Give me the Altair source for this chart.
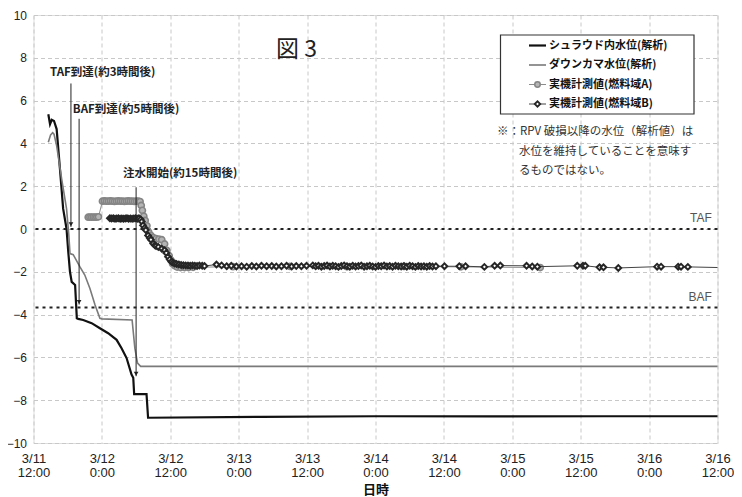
import json
import altair as alt
import pandas as pd

# ---------------- data (hours after 3/11 12:00, water level m) ----------------
shroud_h = [2.6, 2.9, 3.2, 3.6, 4.06, 4.64, 5.2, 5.8, 6.1, 6.4, 6.7, 7.3, 7.6, 7.85, 8.72,
            10.2, 11.65, 13.1, 14.58, 15.45, 16.33, 17.2, 17.5, 17.66, 19.83, 20.1,
            40.0, 60.0, 80.0, 100.0, 120.0]
shroud_v = [5.36, 4.9, 5.1, 5.05, 4.67, 2.81, 0.95, 0.0, -1.07, -2.0, -2.47, -2.62, -4.17, -4.2, -4.25,
            -4.4, -4.64, -4.87, -5.18, -5.57, -6.03, -6.8, -6.95, -7.72, -7.72, -8.82,
            -8.78, -8.75, -8.76, -8.75, -8.75]

down_h = [2.6, 3.0, 3.36, 3.6, 4.06, 4.94, 5.8, 6.2, 6.4, 6.97, 8.15, 9.0, 9.9, 10.8, 11.65, 12.0,
          17.3, 17.78, 18.25, 18.8, 120.0]
down_v = [4.05, 4.4, 4.5, 4.43, 3.9, 2.34, 0.94, -0.3, -1.15, -1.2, -1.77, -2.15, -2.78, -3.55, -4.17, -4.2,
          -4.25, -5.57, -6.27, -6.42, -6.42]

measA_h = [9.6, 9.9, 10.2, 10.5, 10.8, 11.1, 11.4, 12.1, 12.45, 12.8, 13.15, 13.5, 13.85, 14.2, 14.55,
           14.9, 15.25, 15.6, 15.95, 16.3, 16.65, 17.0, 17.35, 17.7, 18.05, 18.4, 18.7, 18.9, 19.1,
           19.35, 19.6, 19.9, 20.2, 20.6, 21.0, 21.5, 22.0, 22.5, 23.0, 23.4, 23.8, 24.1, 24.4, 24.8,
           25.2, 25.8, 26.5, 27.2, 28.0, 35.0, 45.0, 55.0, 65.0, 75.0, 88.9]
measA_v = [0.55, 0.56, 0.55, 0.56, 0.55, 0.56, 0.57, 1.30, 1.31, 1.30, 1.30, 1.31, 1.30, 1.29, 1.30,
           1.31, 1.30, 1.30, 1.29, 1.30, 1.31, 1.30, 1.30, 1.29, 1.30, 1.30, 1.28, 1.1, 0.87,
           0.6, 0.4, 0.15, -0.14, -0.3, -0.4, -0.45, -0.47, -0.5, -0.7, -1.0, -1.25, -1.45, -1.62, -1.72,
           -1.78, -1.80, -1.80, -1.80, -1.79, -1.76, -1.75, -1.76, -1.75, -1.77, -1.80]

measB_h = [13.4, 13.7, 14.0, 14.3, 14.6, 14.9, 15.2, 15.5, 15.8, 16.1, 16.4, 16.7, 17.0, 17.3, 17.6,
           17.9, 18.2, 18.5,
           18.8, 19.0, 19.2, 19.5, 19.7, 20.1, 20.4, 20.6, 21.0, 21.3, 21.5, 21.9, 22.5, 23.0, 23.3,
           23.6, 23.9, 24.2, 24.5, 24.8, 25.1, 25.5, 25.9, 26.3, 26.7, 27.1, 27.5, 27.9, 28.3, 28.7,
           29.1, 29.6, 30.0,
           32.1, 33.0, 33.9, 34.7, 35.6, 36.5, 37.4, 38.3, 39.1, 40.0, 40.9, 41.8, 42.6, 43.5, 44.4,
           45.3, 46.1, 47.0, 47.9,
           49.0, 49.5, 50.0, 50.5, 51.0, 51.5, 52.0, 52.5, 53.0, 53.5, 54.0, 54.5, 55.0, 55.5, 56.0,
           56.5, 57.0, 57.5, 58.0, 58.5, 59.0, 59.5, 60.0, 60.5, 61.0, 61.5, 62.0, 62.5, 63.0, 63.5,
           64.0, 64.5, 65.0, 65.5, 66.0, 66.5, 67.0, 67.5, 68.0, 68.5, 69.0, 69.5, 70.0, 70.6,
           72.1, 74.7, 75.8, 79.1, 80.9, 81.9, 86.5, 87.5, 88.4, 95.4, 96.4, 96.8, 99.3, 100.0,
           102.6, 109.4, 110.1, 113.1, 113.6, 114.8]
measB_v = [0.50, 0.49, 0.50, 0.48, 0.49, 0.50, 0.48, 0.49, 0.48, 0.49, 0.50, 0.48, 0.49, 0.48, 0.49,
           0.50, 0.48, 0.50,
           0.45, 0.35, 0.17, 0.05, -0.05, -0.3, -0.42, -0.5, -0.68, -0.76, -0.8, -0.84, -0.92, -0.99, -1.12,
           -1.3, -1.42, -1.53, -1.58, -1.61, -1.64, -1.66, -1.68, -1.69, -1.70, -1.71, -1.72, -1.70, -1.72,
           -1.73, -1.71, -1.72, -1.73,
           -1.66, -1.70, -1.74, -1.72, -1.75, -1.74, -1.76, -1.73, -1.75, -1.72, -1.74, -1.73, -1.75,
           -1.74, -1.72, -1.75, -1.73, -1.74, -1.72,
           -1.70, -1.74, -1.72, -1.76, -1.73, -1.71, -1.75, -1.72, -1.74, -1.77, -1.73, -1.70, -1.74,
           -1.76, -1.72, -1.75, -1.73, -1.71, -1.76, -1.74, -1.72, -1.75, -1.77, -1.73, -1.74, -1.71,
           -1.75, -1.73, -1.76, -1.72, -1.74, -1.75, -1.73, -1.76, -1.72, -1.74, -1.77, -1.73, -1.75,
           -1.74, -1.76, -1.73, -1.75, -1.74,
           -1.74, -1.74, -1.74, -1.77, -1.72, -1.71, -1.72, -1.75, -1.76, -1.72, -1.72, -1.72, -1.79,
           -1.79, -1.82, -1.76, -1.76, -1.76, -1.76, -1.77]
measB_end_h = [120.0]
measB_end_v = [-1.80]

ref_levels = [0.0, -3.67]
ref_names = ["TAF", "BAF"]

ann_text = ["TAF到達(約3時間後)", "BAF到達(約5時間後)", "注水開始(約15時間後)"]
ann_text_h = [2.9, 6.9, 15.7]
ann_text_v = [7.3, 5.58, 2.56]
arrow_h = [6.57, 8.0, 18.0]
arrow_top = [6.8, 5.15, 1.95]
arrow_tip = [0.1, -3.53, -6.88]

tick_hours = [0, 12, 24, 36, 48, 60, 72, 84, 96, 108, 120]
tick_dates = ["3/11", "3/12", "3/12", "3/13", "3/13", "3/14", "3/14", "3/15", "3/15", "3/16", "3/16"]
tick_times = ["12:00", "0:00", "12:00", "0:00", "12:00", "0:00", "12:00", "0:00", "12:00", "0:00", "12:00"]

legend_labels = ["シュラウド内水位(解析)", "ダウンカマ水位(解析)", "実機計測値(燃料域A)", "実機計測値(燃料域B)"]
note_lines = ["※：RPV 破損以降の水位（解析値）は", "水位を維持していることを意味す", "るものではない。"]

assert len(shroud_h) == len(shroud_v)
assert len(down_h) == len(down_v)
assert len(measA_h) == len(measA_v)
assert len(measB_h) == len(measB_v)

# ---------------- styles ----------------
JP = "Noto Sans CJK JP"
LAT = "Liberation Sans"
BLACK = "#111111"
GREY = "#7a7a7a"

W, H = 684, 428

xlabel_expr = "[{d}[round(datum.value/12)], {t}[round(datum.value/12)]]".format(
    d=json.dumps(tick_dates), t=json.dumps(tick_times))

X = alt.X("h:Q", scale=alt.Scale(domain=[0, 120], nice=False, zero=False),
          axis=alt.Axis(values=tick_hours, labelExpr=xlabel_expr, title="日時",
                        titleFont=JP, titleFontSize=13, titleFontWeight="bold", titleColor="#111",
                        titlePadding=4, labelFont=LAT, labelFontSize=13, labelColor="#222",
                        labelLineHeight=14.5, labelPadding=9, ticks=False, domain=False,
                        gridColor="#c8c8c8", gridDash=[4, 3], gridWidth=1,
                        labelOverlap=False, labelFlush=False))
Y = alt.Y("v:Q", scale=alt.Scale(domain=[-10, 10], nice=False, zero=False),
          axis=alt.Axis(values=list(range(-10, 11, 2)), title=None, labelFont=LAT,
                        labelFontSize=12, labelColor="#222", labelPadding=7, ticks=False,
                        domain=False, gridColor="#c8c8c8", gridDash=[4, 3], gridWidth=1))


def df(h, v):
    return pd.DataFrame({"h": h, "v": v})


shroud = alt.Chart(df(shroud_h, shroud_v)).mark_line(color=BLACK, strokeWidth=2.2).encode(x=X, y=Y, order="h:Q")
down = alt.Chart(df(down_h, down_v)).mark_line(color=GREY, strokeWidth=1.6).encode(x=X, y=Y, order="h:Q")

refdf = pd.DataFrame({"v": ref_levels, "name": ref_names})
refs = alt.Chart(refdf).mark_rule(color="#222", strokeWidth=2, strokeDash=[3, 4]).encode(y=Y)
ref_lbl = alt.Chart(refdf.assign(h=119.0, v=[lv + 0.5 for lv in ref_levels])).mark_text(
    align="right", baseline="middle", font=LAT, fontSize=12, color="#555").encode(x=X, y=Y, text="name:N")

a_df = df(measA_h, measA_v)
a_line = alt.Chart(a_df).mark_line(color="#8c8c8c", strokeWidth=1).encode(x=X, y=Y, order="h:Q")
a_pts = alt.Chart(a_df).mark_point(shape="circle", filled=False, fill="#b5b5b5", stroke="#858585",
                                   strokeWidth=1.6, size=38, opacity=1).encode(x=X, y=Y)

b_df = df(measB_h, measB_v)
b_line = alt.Chart(df(measB_h + measB_end_h, measB_v + measB_end_v)).mark_line(
    color="#444", strokeWidth=1).encode(x=X, y=Y, order="h:Q")
b_pts = alt.Chart(b_df).mark_point(shape="diamond", filled=False, fill="white", stroke="#262626",
                                   strokeWidth=2, size=32, opacity=1).encode(x=X, y=Y)

arr_df = pd.DataFrame({"h": arrow_h, "v": arrow_top, "v2": arrow_tip})
arrows = alt.Chart(arr_df).mark_rule(color="#222", strokeWidth=1).encode(x=X, y=Y, y2="v2:Q")
heads = alt.Chart(pd.DataFrame({"h": arrow_h, "v": [t + 0.12 for t in arrow_tip]})).mark_point(
    shape="triangle-down", filled=True, color="#222", size=22, opacity=1).encode(x=X, y=Y)

ann_df = pd.DataFrame({"h": ann_text_h, "v": ann_text_v, "t": ann_text})
anns = alt.Chart(ann_df).mark_text(align="left", baseline="middle", font=JP, fontSize=11.5,
                                   fontWeight="bold", color="#222").encode(x=X, y=Y, text="t:N")

one = pd.DataFrame({"k": [0]})

title_txt = alt.Chart(one).mark_text(text="図 3", font=JP, fontSize=23, color="#222",
                                      align="center", baseline="middle").encode(
    x=alt.value(263), y=alt.value(35))

# legend box (pixel positions inside plot area)
lg_x0, lg_x1, lg_y0, lg_y1 = 467, 660.5, 20, 99
row_y = [30.5, 50, 69.5, 89]
legend_box = alt.Chart(one).mark_rect(fill="white", stroke="#333", strokeWidth=1.2).encode(
    x=alt.value(lg_x0), x2=alt.value(lg_x1), y=alt.value(lg_y0), y2=alt.value(lg_y1))
legend_layers = [legend_box]
line_styles = [(BLACK, 2.2), (GREY, 1.6), ("#8c8c8c", 1), ("#444", 1)]
for i, (col, sw) in enumerate(line_styles):
    legend_layers.append(alt.Chart(one).mark_rule(color=col, strokeWidth=sw).encode(
        x=alt.value(495.5), x2=alt.value(512.5), y=alt.value(row_y[i])))
    legend_layers.append(alt.Chart(one).mark_text(text=legend_labels[i], font=JP, fontSize=11,
                                                  fontWeight="bold", color="#111", align="left",
                                                  baseline="middle").encode(
        x=alt.value(515.5), y=alt.value(row_y[i])))
legend_layers.append(alt.Chart(one).mark_point(shape="circle", filled=False, fill="#b5b5b5",
                                               stroke="#858585", strokeWidth=1.5, size=30,
                                               opacity=1).encode(x=alt.value(504), y=alt.value(row_y[2])))
legend_layers.append(alt.Chart(one).mark_point(shape="diamond", filled=False, fill="white",
                                               stroke="#262626", strokeWidth=1.8, size=30,
                                               opacity=1).encode(x=alt.value(504), y=alt.value(row_y[3])))

note_x = [463.5, 485.5, 485.5]
note_y = [117, 137, 156]
note_layers = [alt.Chart(one).mark_text(text=note_lines[i], font=JP, fontSize=11.5, color="#333",
                                        align="left", baseline="middle").encode(
    x=alt.value(note_x[i]), y=alt.value(note_y[i])) for i in range(3)]

chart = alt.layer(
    shroud, down, refs, ref_lbl, a_line, a_pts, b_line, b_pts, arrows, heads, anns,
    title_txt, *legend_layers, *note_layers
).properties(
    width=W, height=H, autosize=alt.AutoSizeParams(type="none"),
    padding={"left": 25.5, "top": 7, "right": 16, "bottom": 60}
).configure_view(stroke="#444", strokeWidth=1.2).configure(background="white")

chart.save("out.html", embed_options={"renderer": "svg", "actions": False})
